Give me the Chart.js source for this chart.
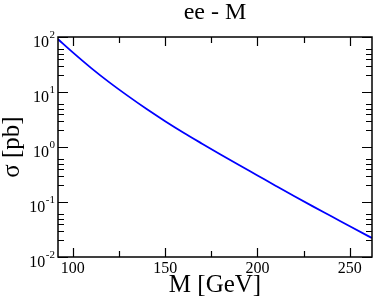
<!DOCTYPE html>
<html lang="en">
<head>
    <meta charset="UTF-8">
    <title>ee - M</title>
    <script src="https://cdn.jsdelivr.net/npm/chart.js"></script>
    <style>
        html, body {
            margin: 0;
            padding: 0;
            background: #fff;
        }
        #wrap {
            width: 374px;
            height: 298px;
        }
    </style>
</head>
<body>
<div id="wrap"><canvas id="chart" width="374" height="298"></canvas></div>

<script>
    // cross section vs mass
    const massValues = [92, 100, 110, 120, 130, 140, 150, 160, 170, 180, 190, 200, 210, 220, 230, 240, 250, 260, 262];
    const sigmaValues = [91.2, 52.5, 27.2, 14.8, 8.41, 4.90, 2.95, 1.82, 1.15, 0.733, 0.471, 0.304, 0.196, 0.127, 0.0832, 0.0550, 0.0363, 0.0240, 0.0221];

    const xMajorTicks = [100, 150, 200, 250];
    const xMinorTicks = [125, 175, 225];
    const yExponents = [-2, -1, 0, 1, 2];
    const yMinorFactors = [2, 3, 4, 5, 6];

    const serif = "'Liberation Serif', 'DejaVu Serif', serif";

    // frame, inward ticks on all sides, title and 10^n labels
    const framePlugin = {
        id: 'frame',
        afterDraw(chart) {
            const ctx = chart.ctx;
            const area = chart.chartArea;
            const xs = chart.scales.x;
            const ys = chart.scales.y;
            ctx.save();
            ctx.strokeStyle = '#000';
            ctx.lineWidth = 1.5;
            ctx.strokeRect(area.left, area.top, area.right - area.left, area.bottom - area.top);

            ctx.lineWidth = 1.2;
            ctx.beginPath();
            const xTick = (v, len) => {
                const px = Math.round(xs.getPixelForValue(v)) + 0.5;
                ctx.moveTo(px, area.bottom); ctx.lineTo(px, area.bottom - len);
                ctx.moveTo(px, area.top); ctx.lineTo(px, area.top + len);
            };
            const yTick = (v, len) => {
                const py = Math.round(ys.getPixelForValue(v)) + 0.5;
                ctx.moveTo(area.left, py); ctx.lineTo(area.left + len, py);
                ctx.moveTo(area.right, py); ctx.lineTo(area.right - len, py);
            };
            xMajorTicks.forEach(v => xTick(v, 9));
            xMinorTicks.forEach(v => xTick(v, 6));
            yExponents.forEach((e, i) => {
                yTick(Math.pow(10, e), 10);
                if (i < yExponents.length - 1) {
                    yMinorFactors.forEach(f => yTick(f * Math.pow(10, e), 6));
                }
            });
            ctx.stroke();

            // y tick labels as 10 with a raised exponent
            ctx.fillStyle = '#000';
            ctx.textBaseline = 'alphabetic';
            yExponents.forEach(e => {
                const py = ys.getPixelForValue(Math.pow(10, e));
                const exp = e < 0 ? '-' + (-e) : String(e);
                ctx.font = '11px ' + serif;
                const ew = ctx.measureText(exp).width;
                ctx.textAlign = 'left';
                const right = area.left - 3;
                ctx.fillText(exp, right - ew, py + 1);
                ctx.font = '16px ' + serif;
                ctx.textAlign = 'right';
                ctx.fillText('10', right - ew - 0.5, py + 9.5);
            });

            // title centred over the plot area
            ctx.font = '24px ' + serif;
            ctx.textAlign = 'center';
            ctx.fillText('ee - M', (area.left + area.right) / 2, 19);
            ctx.restore();
        }
    };

    const ctx = document.getElementById('chart').getContext('2d');
    new Chart(ctx, {
        type: 'line',
        data: {
            datasets: [{
                label: 'ee - M',
                data: massValues.map((m, i) => ({x: m, y: sigmaValues[i]})),
                borderColor: '#0000ff',
                borderWidth: 1.8,
                pointRadius: 0,
                cubicInterpolationMode: 'monotone',
                fill: false
            }]
        },
        options: {
            responsive: false,
            animation: false,
            events: [],
            layout: {
                padding: {top: 37, right: 2, left: 0, bottom: 0}
            },
            scales: {
                x: {
                    type: 'linear',
                    min: 92,
                    max: 262,
                    afterBuildTicks: scale => {
                        scale.ticks = xMajorTicks.map(v => ({value: v}));
                    },
                    afterFit: scale => { scale.height = 41; },
                    grid: {display: false, drawTicks: false},
                    border: {display: false},
                    ticks: {
                        color: '#000',
                        padding: 2,
                        maxRotation: 0,
                        font: {family: serif, size: 16}
                    },
                    title: {
                        display: true,
                        text: 'M [GeV]',
                        color: '#000',
                        padding: 0,
                        font: {family: serif, size: 25, lineHeight: 1.0}
                    }
                },
                y: {
                    type: 'logarithmic',
                    min: 0.01,
                    max: 100,
                    afterBuildTicks: scale => {
                        scale.ticks = yExponents.map(e => ({value: Math.pow(10, e)}));
                    },
                    afterFit: scale => { scale.width = 58; },
                    grid: {display: false, drawTicks: false},
                    border: {display: false},
                    ticks: {display: false},
                    title: {
                        display: true,
                        text: 'σ [pb]',
                        color: '#000',
                        padding: 0,
                        font: {family: serif, size: 25, lineHeight: 1.0}
                    }
                }
            },
            plugins: {
                legend: {display: false},
                title: {display: false},
                tooltip: {enabled: false}
            }
        },
        plugins: [framePlugin]
    });
</script>
</body>
</html>
